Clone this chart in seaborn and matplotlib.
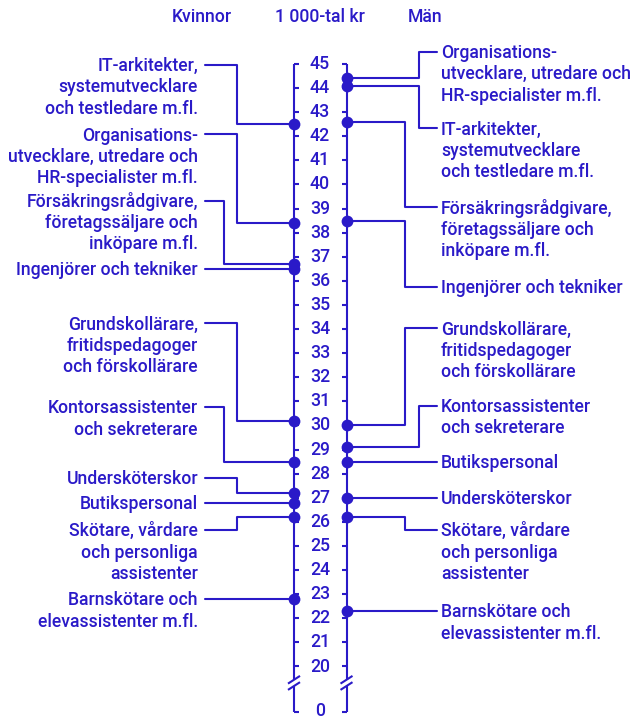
import numpy as np
import pandas as pd
import matplotlib
matplotlib.use("Agg")
import matplotlib.pyplot as plt
import seaborn as sns

# ---------------- data ----------------
occupations = [
    "IT-arkitekter,\nsystemutvecklare\noch testledare m.fl.",
    "Organisations-\nutvecklare, utredare och\nHR-specialister m.fl.",
    "Försäkringsrådgivare,\nföretagssäljare och\ninköpare m.fl.",
    "Ingenjörer och tekniker",
    "Grundskollärare,\nfritidspedagoger\noch förskollärare",
    "Kontorsassistenter\noch sekreterare",
    "Butikspersonal",
    "Undersköterskor",
    "Skötare, vårdare\noch personliga\nassistenter",
    "Barnskötare och\nelevassistenter m.fl.",
]
women = [42.5, 38.4, 36.7, 36.5, 30.2, 28.5, 26.8, 27.2, 26.2, 22.8]
men = [44.1, 44.4, 42.6, 38.5, 30.0, 29.1, 28.5, 27.0, 26.2, 22.3]
tick_values = list(range(20, 46))
header_left, header_mid, header_right = "Kvinnor", "1 000-tal kr", "Män"

# ---------------- layout (positions / styles) ----------------
COL = "#2A1AC8"
FONT = ["Roboto", "DejaVu Sans"]
FS = 12.7
FW = "medium"
PX = 24.1                      # pixels per 1 000 kr
X_W, X_M = 294.0, 346.5        # axis x (pixel-like units)
X_NUM = 320.0
ZERO_POS = 18.1                # where "0" sits on the broken axis
BREAK_POS = 19.32
LINE_STEP = 21.3 / PX          # text line spacing in value units
BASE_OFF = 6.2 / PX            # center -> baseline offset

# label anchor (value units) and elbow x for each side; None = straight line
w_anchor = [44.96, 42.08, 39.33, None, 34.24, 30.76, None, 27.81, 25.66, None]
w_elbow = [237, 237, 224, None, 237, 224, None, 237, 237, None]
m_anchor = [42.33, 45.51, 39.05, 35.76, 34.03, 30.81, None, None, 25.66, None]
m_elbow = [419, 419, 405, 405, 405, 419, None, None, 405, None]

sns.set_theme(style="white")
plt.rcParams["font.family"] = FONT

fig = plt.figure(figsize=(6.32, 7.18), dpi=100)
ax = fig.add_axes([0, 0, 1, 1])
ylo = 45 - (718 - 64) / PX
yhi = 45 + 64 / PX

LW = 1.5
TXT = dict(color=COL, fontsize=FS, family=FONT, fontweight=FW)

# axes lines with break
for xa, tdir in ((X_W, 1), (X_M, -1)):
    ax.plot([xa, xa], [45, BREAK_POS + 0.13], color=COL, lw=LW, solid_capstyle="butt")
    ax.plot([xa, xa], [BREAK_POS - 0.13, ZERO_POS], color=COL, lw=LW, solid_capstyle="butt")
    for tv in tick_values + [ZERO_POS]:
        ax.plot([xa, xa + 5 * tdir], [tv, tv], color=COL, lw=LW, solid_capstyle="butt")
    for d in (0.13, -0.13):
        ax.plot([xa - 6, xa + 6], [BREAK_POS + d - 0.16, BREAK_POS + d + 0.16],
                color=COL, lw=LW, solid_capstyle="butt")

for tv in tick_values:
    ax.text(X_NUM, tv, str(tv), ha="center", va="center", **TXT)
ax.text(X_NUM, ZERO_POS + 0.05, "0", ha="center", va="center", **TXT)

# headers
hy = 45 + (64 - 17) / PX
ax.text(202, hy, header_left, ha="center", va="center", **TXT)
ax.text(320, hy, header_mid, ha="center", va="center", **TXT)
ax.text(425, hy, header_right, ha="center", va="center", **TXT)


def draw_label(text, x, y_first, ha):
    for i, line in enumerate(text.split("\n")):
        ax.text(x, y_first - i * LINE_STEP - BASE_OFF, line, ha=ha, va="baseline", **TXT)


# connectors + labels
for occ, v, anc, ex in zip(occupations, women, w_anchor, w_elbow):
    if anc is None:
        ax.plot([205, X_W], [v, v], color=COL, lw=LW)
        draw_label(occ, 198, v, "right")
    else:
        ax.plot([205, ex, ex, X_W], [anc, anc, v, v], color=COL, lw=LW)
        draw_label(occ, 198, anc, "right")

for occ, v, anc, ex in zip(occupations, men, m_anchor, m_elbow):
    if anc is None:
        ax.plot([X_M, 437], [v, v], color=COL, lw=LW)
        draw_label(occ, 441, v, "left")
    else:
        ax.plot([X_M, ex, ex, 437], [v, v, anc, anc], color=COL, lw=LW)
        draw_label(occ, 441, anc, "left")

# dots
df = pd.DataFrame({
    "occupation": occupations * 2,
    "value": women + men,
    "sex": ["Kvinnor"] * len(women) + ["Män"] * len(men),
})
df["xpos"] = df["sex"].map({"Kvinnor": X_W, "Män": X_M})
sns.scatterplot(data=df, x="xpos", y="value", color=COL, s=72, linewidth=0,
                zorder=5, ax=ax, legend=False)
ax.set_xlim(0, 632)
ax.set_ylim(ylo, yhi)
ax.axis("off")

fig.savefig("out.png", dpi=100, facecolor="white")
